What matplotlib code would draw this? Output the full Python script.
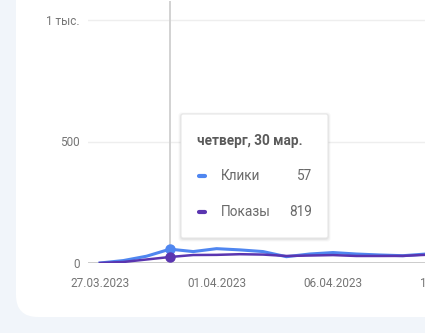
import numpy as np
import matplotlib
matplotlib.use("Agg")
import matplotlib.pyplot as plt
from matplotlib.patches import FancyBboxPatch
from matplotlib.lines import Line2D
from matplotlib.transforms import IdentityTransform

plt.rcParams['font.family'] = ['Roboto', 'DejaVu Sans']

# data (27.03.2023 .. 10.04.2023)
days = ['27.03', '28.03', '29.03', '30.03', '31.03', '01.04', '02.04', '03.04',
        '04.04', '05.04', '06.04', '07.04', '08.04', '09.04', '10.04']
clicks = [0, 10, 28, 57, 47, 59, 54, 47, 26, 37, 43, 37, 33, 30, 37]
impressions = [0, 140, 480, 819, 1090, 1110, 1200, 1150, 960, 1020, 1080, 960, 960, 970, 1120]
tick_pos = [0, 5, 10, 15]
tick_labels = ['27.03.2023', '01.04.2023', '06.04.2023', '11.04.2023']
y_ticks = [0, 500, 1000]
y_labels = ['0', '500', '1 тыс.']
hover = 3  # 30.03

BG = '#f1f5fa'
BLUE = '#4f86f0'
PURPLE = '#5a35b0'
GRID = '#eeeeee'
TXT = '#757575'

W, H = 425, 333
fig = plt.figure(figsize=(W / 100, H / 100), dpi=100, facecolor=BG)

# white card behind the chart
card = FancyBboxPatch((16, 16), 500, 400, boxstyle="round,pad=0,rounding_size=22",
                      transform=IdentityTransform(), facecolor='white',
                      edgecolor='none', zorder=-5)
fig.patches.append(card)

px_day = 23.3
x0_px = 100
left_px = 88
xmin = -(x0_px - left_px) / px_day
xmax = 15.6
right_px = x0_px + xmax * px_day
ax = fig.add_axes([left_px / W, 70 / H, (right_px - left_px) / W, 262 / H])
ax.patch.set_visible(False)

x = np.arange(len(days))
ax.set_xlim(xmin, xmax)
ax.set_ylim(0, 1000 * 262 / 243)

for v in y_ticks[1:]:
    ax.axhline(v, color=GRID, lw=1.0, zorder=0)
ax.axhline(0, color='#c4c4c4', lw=1.2, zorder=1)
ax.axvline(hover, color='#cfcfcf', lw=1.3, zorder=1)

ax.plot(x, clicks, color=BLUE, lw=2.2, zorder=4, solid_joinstyle='round')
ax.plot(hover, clicks[hover], 'o', color=BLUE, ms=6.5, zorder=5)

ax2 = ax.twinx()
ax2.set_position(ax.get_position())
ax2.patch.set_visible(False)
ax2.set_xlim(xmin, xmax)
ax2.set_ylim(0, 819 * 262 / 6)
ax2.plot(x, impressions, color=PURPLE, lw=1.8, zorder=3, solid_joinstyle='round')
ax2.plot(hover, impressions[hover], 'o', color=PURPLE, ms=6.5, zorder=5)
ax2.axis('off')

ax.set_xticks(tick_pos)
ax.set_xticklabels(tick_labels)
ax.set_yticks(y_ticks)
ax.set_yticklabels(y_labels)
ax.tick_params(axis='both', length=0, colors=TXT, labelsize=8.5)
ax.tick_params(axis='x', pad=10)
ax.tick_params(axis='y', pad=6)
for s in ax.spines.values():
    s.set_visible(False)

# tooltip
tx, ty, tw, th = 181, H - 238, 147, 124
for i, a in enumerate([0.05, 0.04, 0.03]):
    sh = FancyBboxPatch((tx - i - 0.5, ty - i - 1.5), tw + 2 * i + 1, th + 2 * i + 1,
                        boxstyle="round,pad=0,rounding_size=3",
                        transform=IdentityTransform(), facecolor='black',
                        edgecolor='none', alpha=a, zorder=10)
    fig.patches.append(sh)
box = FancyBboxPatch((tx, ty), tw, th, boxstyle="round,pad=0,rounding_size=2",
                     transform=IdentityTransform(), facecolor='white',
                     edgecolor='#e6e6e6', lw=0.8, zorder=11)
fig.patches.append(box)

fig.text(197 / W, (H - 141) / H, 'четверг, 30 мар.', fontsize=9.8, fontweight='bold',
         color='#5a5a5a', va='center', ha='left', zorder=12)
rows = [('Клики', clicks[hover], BLUE, 176), ('Показы', impressions[hover], PURPLE, 212)]
for name, val, col, yy in rows:
    fig.lines.append(Line2D([199, 205], [H - yy, H - yy], color=col, lw=3,
                            solid_capstyle='round', transform=IdentityTransform(), zorder=12))
    fig.text(221 / W, (H - yy) / H, name, fontsize=9.8, color='#6a6a6a',
             va='center', ha='left', zorder=12)
    fig.text(312 / W, (H - yy) / H, str(val), fontsize=9.8, color='#6a6a6a',
             va='center', ha='right', zorder=12)

fig.savefig('out.png', dpi=100, facecolor=BG)
